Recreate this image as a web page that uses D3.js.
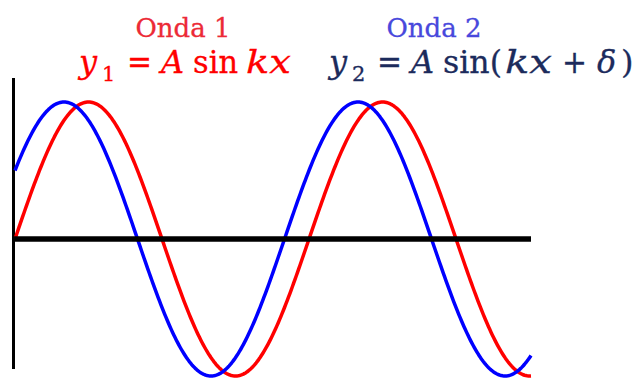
<!DOCTYPE html>
<html>
<head>
<meta charset="utf-8">
<script src="https://cdn.jsdelivr.net/npm/d3@7"></script>
<style>
  html, body { margin: 0; padding: 0; background: #fff; }
  svg { display: block; }
  .title { font-family: "DejaVu Serif", serif; font-size: 26px; stroke-width: 0.3px; }
  .eq { font-family: "DejaVu Serif", serif; font-size: 32px; stroke-width: 0.3px; }
</style>
</head>
<body>
<svg id="chart" width="638" height="378"></svg>
<script>
// Wave parameters (y = A sin(kx + δ)), x measured in wavelengths
const amplitude = 1;
const wavenumber = 2 * Math.PI;          // k, one cycle per wavelength
const phaseShift = Math.PI / 6;          // δ of the second wave
const xExtent = [0, 1.755];              // wavelengths shown
const waveNames = ["Onda 1", "Onda 2"];
const wavePhases = [0, phaseShift];
const waveColors = ["#ff0000", "#0000ff"];
const sampleCount = 400;

const svg = d3.select("#chart");

const x = d3.scaleLinear().domain(xExtent).range([15, 531]);
const y = d3.scaleLinear().domain([-amplitude, amplitude]).range([376, 102]);

const xs = d3.range(sampleCount + 1).map(i => xExtent[0] + (xExtent[1] - xExtent[0]) * i / sampleCount);

const line = d3.line()
  .x(d => x(d[0]))
  .y(d => y(d[1]));

// Vertical axis at the origin
svg.append("line")
  .attr("x1", 13.5).attr("x2", 13.5)
  .attr("y1", 78).attr("y2", 369)
  .attr("stroke", "#000").attr("stroke-width", 3);

// Waves
wavePhases.forEach((ph, i) => {
  const pts = xs.map(v => [v, amplitude * Math.sin(wavenumber * v + ph)]);
  svg.append("path")
    .datum(pts)
    .attr("d", line)
    .attr("fill", "none")
    .attr("stroke", waveColors[i])
    .attr("stroke-width", 3.5)
    .attr("stroke-linejoin", "round");
});

// Heavy baseline at y = 0
svg.append("line")
  .attr("x1", 13).attr("x2", 531)
  .attr("y1", y(0)).attr("y2", y(0))
  .attr("stroke", "#000").attr("stroke-width", 5.5);

// Titles
[["#ec2a36", 183], ["#4848dc", 434]].forEach(([c, cx], i) => {
  svg.append("text").attr("class", "title")
    .attr("x", cx).attr("y", 37).attr("text-anchor", "middle")
    .attr("fill", c).attr("stroke", c).text(waveNames[i]);
});

// Equations, set piece by piece like typeset math
function equation(color, pieces) {
  const g = svg.append("g").attr("class", "eq").attr("fill", color).attr("stroke", color);
  pieces.forEach(p => {
    const t = g.append("text")
      .attr("x", p.x)
      .attr("y", p.sub ? 81 : 73)
      .text(p.t);
    if (p.i) t.attr("font-style", "italic");
    if (p.sub) t.attr("font-size", "21px");
    if (p.w) t.attr("textLength", p.w).attr("lengthAdjust", "spacingAndGlyphs");
  });
}

equation("#ff0000", [
  { t: "y", i: true, x: 79 },
  { t: "1", sub: true, x: 102 },
  { t: "=", x: 127, w: 25 },
  { t: "A", i: true, x: 161 },
  { t: "sin", x: 193, w: 45 },
  { t: "kx", i: true, x: 246, w: 45 }
]);

equation("#1c2b5c", [
  { t: "y", i: true, x: 329 },
  { t: "2", sub: true, x: 352 },
  { t: "=", x: 377, w: 25 },
  { t: "A", i: true, x: 411 },
  { t: "sin(", x: 443, w: 59 },
  { t: "kx", i: true, x: 505, w: 47 },
  { t: "+", x: 562, w: 25 },
  { t: "δ", i: true, x: 597 },
  { t: ")", x: 621 }
]);
</script>
</body>
</html>
